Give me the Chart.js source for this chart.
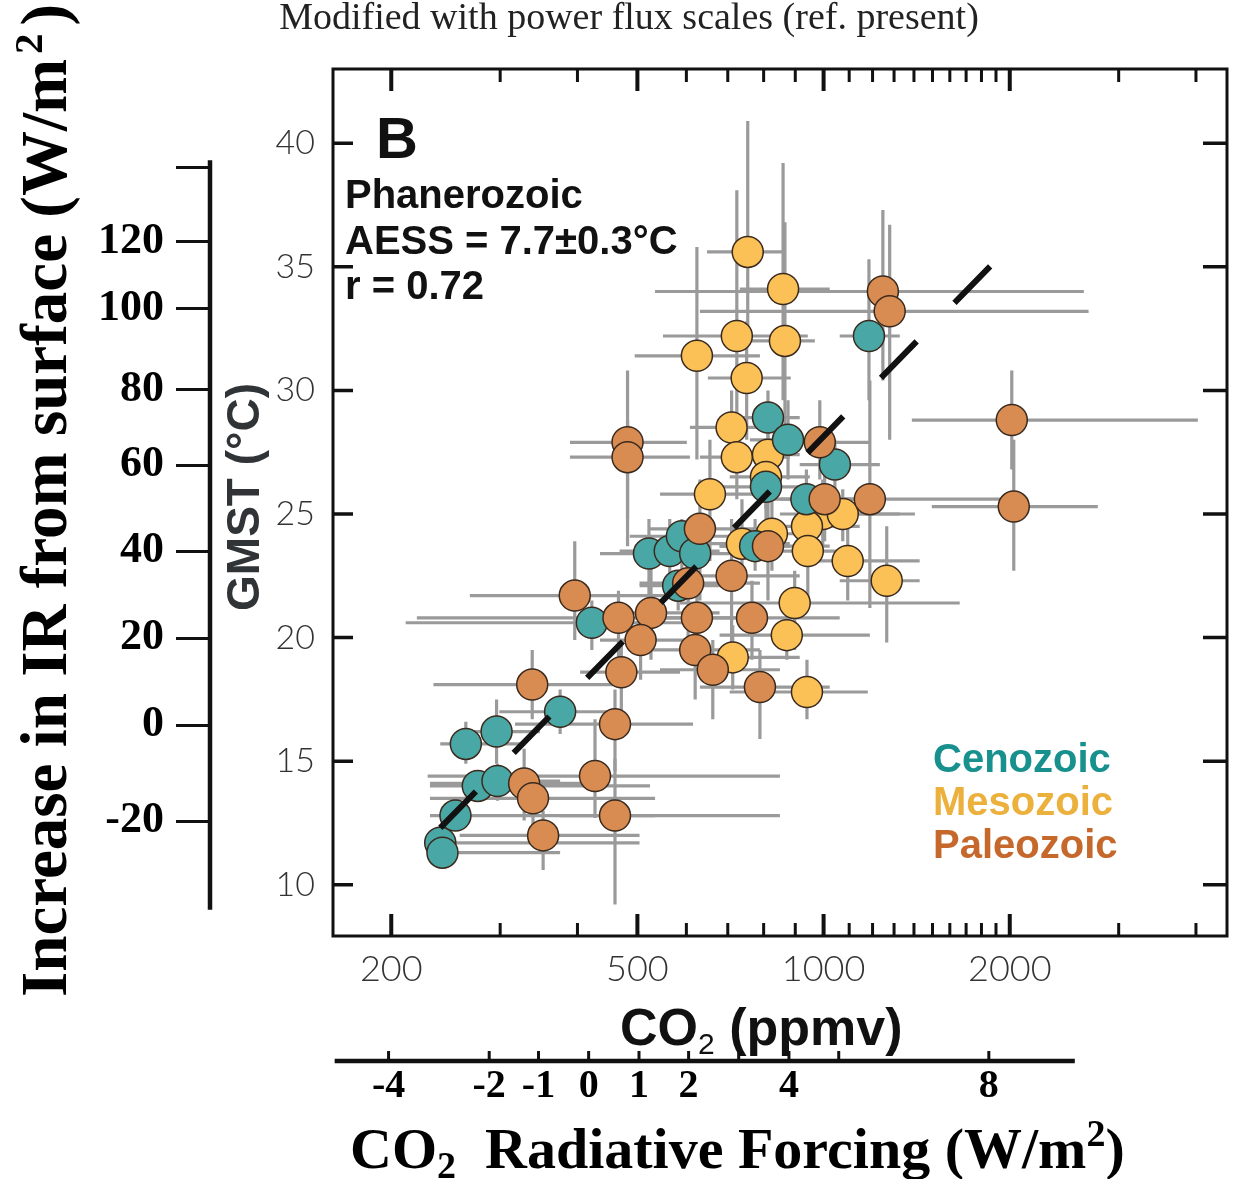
<!DOCTYPE html>
<html lang="en">
<head>
<meta charset="UTF-8">
<title>Phanerozoic GMST vs CO2</title>
<style>
  html, body { margin: 0; padding: 0; background: #fff; }
  canvas { display: block; }
</style>
</head>
<body>
<canvas id="co2Chart" width="1233" height="1179"></canvas>

<script src="https://cdn.jsdelivr.net/npm/chart.js@4"></script>
<script>
// ---- data ----
// Cenozoic
const cenoCo2    = [240, 242, 254, 276, 297, 264, 296, 375, 422, 522, 564, 590, 620, 582, 813, 876, 1043, 807, 775, 938, 1184];
const cenoGmst   = [11.7, 11.3, 12.8, 14.0, 14.2, 15.7, 16.2, 17.0, 20.6, 23.4, 23.5, 24.1, 23.4, 22.1, 28.9, 28.0, 27.0, 26.1, 23.7, 25.6, 32.2];
const cenoCo2Lo  = [226, 231, 231, 231, 268, 240, 268, 299, 211, 435, 468, 486, 544, 504, 679, 760, 915, 679, 679, 819, 1062];
const cenoCo2Hi  = [504, 375, 534, 524, 375, 323, 348, 468, 631, 631, 679, 732, 760, 679, 915, 1023, 1233, 915, 882, 1102, 1328];
const cenoGmstLo = [10.9, 10.8, 12.2, 13.4, 13.4, 14.9, 14.9, 16.1, 19.5, 21.5, 21.9, 22.7, 22.3, 21.1, 26.8, 26.4, 26.0, 24.4, 22.7, 24.4, 29.6];
const cenoGmstHi = [12.3, 12.0, 13.4, 14.6, 14.9, 16.6, 17.5, 17.9, 21.5, 24.8, 24.8, 24.8, 24.4, 22.7, 30.0, 29.6, 28.0, 27.6, 24.8, 26.8, 35.3];

// Mesozoic
const mesoCo2    = [754, 860, 724, 866, 624, 751, 710, 724, 813, 807, 655, 738, 825, 997, 1074, 940, 943, 1094, 1265, 898, 872, 713, 940];
const mesoGmst   = [35.6, 34.1, 32.2, 32.0, 31.4, 30.5, 28.5, 27.3, 27.4, 26.5, 25.8, 23.8, 24.2, 25.0, 25.0, 24.5, 23.5, 23.1, 22.3, 21.4, 20.1, 19.2, 17.8];
const mesoCo2Lo  = [648, 732, 550, 732, 495, 650, 608, 631, 705, 705, 544, 631, 732, 850, 915, 819, 850, 915, 1062, 586, 679, 631, 705];
const mesoCo2Hi  = [860, 1023, 943, 968, 789, 885, 882, 882, 915, 950, 789, 882, 986, 1328, 1405, 1144, 1102, 1430, 1430, 1660, 1188, 915, 1179];
const mesoGmstLo = [32.4, 29.6, 26.8, 28.4, 27.2, 28.0, 26.8, 25.6, 26.4, 25.2, 23.1, 22.3, 22.7, 23.7, 23.9, 23.1, 21.5, 21.5, 19.8, 19.5, 19.1, 17.9, 16.7];
const mesoGmstHi = [40.9, 39.2, 38.1, 36.8, 35.8, 32.8, 30.0, 28.8, 28.4, 27.6, 28.0, 25.6, 25.6, 26.4, 26.0, 25.6, 24.8, 24.8, 24.5, 22.7, 21.5, 20.5, 19.1];

// Paleozoic
const paleoCo2    = [396, 466, 526, 506, 471, 338, 460, 427, 328, 339, 352, 460, 482, 482, 631, 604, 710, 766, 624, 620, 662, 789, 813, 986, 1004, 1188, 1247, 1279, 2015, 2030];
const paleoGmst   = [21.7, 20.8, 21.0, 19.9, 18.6, 18.1, 16.5, 14.4, 14.1, 13.5, 12.0, 12.8, 27.9, 27.3, 24.4, 22.2, 22.5, 20.8, 20.8, 19.5, 18.7, 18.0, 23.7, 27.9, 25.6, 25.6, 34.0, 33.2, 28.8, 25.3];
const paleoCo2Lo  = [268, 220, 435, 435, 404, 234, 317, 229, 231, 231, 258, 375, 389, 389, 524, 504, 608, 631, 504, 504, 544, 631, 679, 850, 850, 915, 534, 631, 1389, 1496];
const paleoCo2Hi  = [631, 631, 679, 631, 586, 456, 615, 850, 435, 534, 504, 850, 601, 608, 789, 789, 915, 1062, 789, 789, 850, 1023, 1023, 1188, 1233, 1927, 2635, 2682, 4028, 2776];
const paleoGmstLo = [19.9, 19.1, 19.1, 18.3, 16.7, 16.7, 14.6, 12.7, 12.6, 12.2, 10.6, 9.2, 23.7, 24.8, 21.5, 19.9, 19.5, 19.1, 19.1, 17.5, 16.7, 15.9, 21.5, 26.4, 23.9, 21.2, 30.4, 28.0, 26.8, 22.7];
const paleoGmstHi = [23.9, 21.9, 23.1, 21.1, 19.9, 19.5, 17.9, 16.7, 15.5, 14.6, 13.0, 15.1, 30.8, 28.8, 26.4, 23.9, 24.8, 22.3, 22.3, 21.1, 19.9, 19.5, 25.6, 29.6, 27.2, 30.4, 37.3, 36.7, 30.8, 28.0];

// regression line (AESS = 7.7 C per doubling)
const fitCo2  = [240, 1890];
const fitGmst = [12.3, 35.2];

// axes
const co2Min = 161, co2Max = 4490;
const gmstMin = 7.93, gmstMax = 43.0;
const co2TickVals = [200, 300, 400, 500, 600, 700, 800, 900, 1000, 1100, 1200, 1300, 1400, 1500, 1600, 1700, 1800, 1900, 2000, 3000, 4000];
const co2MajorTicks = [200, 500, 1000, 2000];
const gmstTicks = [10, 15, 20, 25, 30, 35, 40];
// IR flux scale: GMST position of each tick and its label
const irTickGmst   = [39.03, 36.01, 33.32, 30.05, 26.98, 23.50, 19.98, 16.46, 12.58];
const irTickLabels = ['', '120', '100', '80', '60', '40', '20', '0', '-20'];
const irAxisGmst   = [39.31, 8.99];
// CO2 radiative forcing scale: CO2 position of each tick and its label
const forcingTickCo2    = [198, 288, 346, 417, 503, 605, 729, 879, 1058, 1850];
const forcingTickLabels = ['-4', '-2', '-1', '0', '1', '2', '', '4', '', '8'];
const forcingAxisCo2    = [162, 2548];

const eras = [
  { name: 'Paleozoic', co2: paleoCo2, gmst: paleoGmst, co2Lo: paleoCo2Lo, co2Hi: paleoCo2Hi, gLo: paleoGmstLo, gHi: paleoGmstHi, fill: '#d98c52' },
  { name: 'Cenozoic',  co2: cenoCo2,  gmst: cenoGmst,  co2Lo: cenoCo2Lo,  co2Hi: cenoCo2Hi,  gLo: cenoGmstLo,  gHi: cenoGmstHi,  fill: '#49a7a5' },
  { name: 'Mesozoic',  co2: mesoCo2,  gmst: mesoGmst,  co2Lo: mesoCo2Lo,  co2Hi: mesoCo2Hi,  gLo: mesoGmstLo,  gHi: mesoGmstHi,  fill: '#fbc157' }
];

const SANS = '"Liberation Sans", Arial, sans-serif';
const SERIF = '"Liberation Serif", "Times New Roman", serif';
const LIGHT = 'Lato, "Liberation Sans", sans-serif';

// draw a run of text pieces along one baseline (for sub/superscripts)
function drawParts(ctx, parts, x, y) {
  let cx = x;
  parts.forEach(p => {
    ctx.font = p.font;
    cx += p.dx || 0;
    ctx.fillText(p.text, cx, y + (p.dy || 0));
    cx += ctx.measureText(p.text).width;
  });
}

// horizontal scales: fixed height, no extra side padding
function fixBottom(h) {
  return s => { s.height = h; s.paddingLeft = 0; s.paddingRight = 0; };
}

// grey error crosses under the points
const errorBars = {
  id: 'errorBars',
  beforeDatasetsDraw(chart) {
    const { ctx, chartArea, scales: { x, y } } = chart;
    ctx.save();
    ctx.beginPath();
    ctx.rect(chartArea.left, chartArea.top, chartArea.width, chartArea.height);
    ctx.clip();
    ctx.strokeStyle = '#9a9a9a';
    ctx.lineWidth = 3.2;
    eras.forEach(e => {
      e.co2.forEach((c, i) => {
        const px = x.getPixelForValue(c);
        const py = y.getPixelForValue(e.gmst[i]);
        ctx.beginPath();
        ctx.moveTo(x.getPixelForValue(e.co2Lo[i]), py);
        ctx.lineTo(x.getPixelForValue(e.co2Hi[i]), py);
        ctx.moveTo(px, y.getPixelForValue(e.gLo[i]));
        ctx.lineTo(px, y.getPixelForValue(e.gHi[i]));
        ctx.stroke();
      });
    });
    ctx.restore();
  }
};

// frame, inward ticks, extra axis lines, titles and labels
const decor = {
  id: 'decor',
  afterDraw(chart) {
    const { ctx, chartArea: a, scales: { x, y, xF, yIR } } = chart;
    ctx.save();
    ctx.strokeStyle = '#111';
    ctx.fillStyle = '#111';

    // plot frame
    ctx.lineWidth = 3;
    ctx.strokeRect(a.left, a.top, a.right - a.left, a.bottom - a.top);

    // inward ticks on all four sides
    co2TickVals.forEach(v => {
      const px = x.getPixelForValue(v);
      const major = co2MajorTicks.includes(v);
      const len = major ? 22 : 13;
      ctx.lineWidth = major ? 4 : 3;
      ctx.beginPath();
      ctx.moveTo(px, a.bottom); ctx.lineTo(px, a.bottom - len);
      ctx.moveTo(px, a.top); ctx.lineTo(px, a.top + len);
      ctx.stroke();
    });
    ctx.lineWidth = 3.5;
    gmstTicks.forEach(v => {
      const py = y.getPixelForValue(v);
      ctx.beginPath();
      ctx.moveTo(a.left, py); ctx.lineTo(a.left + 20, py);
      ctx.moveTo(a.right, py); ctx.lineTo(a.right - 24, py);
      ctx.stroke();
    });

    // IR flux axis line
    ctx.lineWidth = 4.5;
    ctx.beginPath();
    ctx.moveTo(yIR.right - 1, y.getPixelForValue(irAxisGmst[0]));
    ctx.lineTo(yIR.right - 1, y.getPixelForValue(irAxisGmst[1]));
    ctx.stroke();

    // radiative forcing axis line with upward ticks
    const fy = xF.top + 1;
    ctx.lineWidth = 4.5;
    ctx.beginPath();
    ctx.moveTo(x.getPixelForValue(forcingAxisCo2[0]), fy);
    ctx.lineTo(x.getPixelForValue(forcingAxisCo2[1]), fy);
    ctx.stroke();
    ctx.lineWidth = 3;
    forcingTickCo2.forEach(v => {
      const px = x.getPixelForValue(v);
      ctx.beginPath();
      ctx.moveTo(px, fy); ctx.lineTo(px, fy - 10);
      ctx.stroke();
    });

    // top caption
    ctx.textBaseline = 'alphabetic';
    ctx.textAlign = 'center';
    ctx.fillStyle = '#222';
    ctx.font = '38px ' + SERIF;
    ctx.fillText('Modified with power flux scales (ref. present)', 629, 29);

    // IR axis title (rotated)
    ctx.fillStyle = '#000';
    ctx.textAlign = 'left';
    ctx.save();
    ctx.translate(66, 997);
    ctx.rotate(-Math.PI / 2);
    drawParts(ctx, [
      { text: 'Increase in IR from surface (W/m', font: 'bold 65px ' + SERIF },
      { text: '2', font: 'bold 41px ' + SERIF, dy: -24, dx: 5 },
      { text: ')', font: 'bold 65px ' + SERIF, dx: 8 }
    ], 0, 0);
    ctx.restore();

    // GMST title (rotated)
    ctx.save();
    ctx.translate(259, 497);
    ctx.rotate(-Math.PI / 2);
    ctx.textAlign = 'center';
    ctx.fillStyle = '#303437';
    ctx.font = 'bold 46px ' + SANS;
    ctx.fillText('GMST (\u00B0C)', 0, 0);
    ctx.restore();

    // CO2 axis title
    ctx.fillStyle = '#111';
    drawParts(ctx, [
      { text: 'CO', font: 'bold 52px ' + SANS },
      { text: '2', font: '30px ' + SANS, dy: 9 },
      { text: ' (ppmv)', font: 'bold 52px ' + SANS }
    ], 620, 1045);

    // forcing axis title
    ctx.fillStyle = '#000';
    drawParts(ctx, [
      { text: 'CO', font: 'bold 58px ' + SERIF },
      { text: '2', font: 'bold 38px ' + SERIF, dy: 10 },
      { text: '  Radiative Forcing (W/m', font: 'bold 58px ' + SERIF },
      { text: '2', font: 'bold 38px ' + SERIF, dy: -22 },
      { text: ')', font: 'bold 58px ' + SERIF }
    ], 350, 1168);

    // panel annotations
    ctx.fillStyle = '#111';
    ctx.font = 'bold 58px ' + SANS;
    ctx.fillText('B', 376, 158);
    ctx.font = 'bold 40px ' + SANS;
    ctx.fillText('Phanerozoic', 345, 208);
    ctx.fillText('AESS = 7.7\u00B10.3\u00B0C', 345, 254);
    ctx.fillText('r = 0.72', 345, 299);

    // legend as coloured words
    ctx.font = 'bold 40px ' + SANS;
    ctx.fillStyle = '#18918e'; ctx.fillText('Cenozoic', 933, 772);
    ctx.fillStyle = '#ecb03c'; ctx.fillText('Mesozoic', 933, 815);
    ctx.fillStyle = '#c6672b'; ctx.fillText('Paleozoic', 933, 858);
    ctx.restore();
  }
};

const datasets = [{
  type: 'line',
  label: 'fit',
  data: fitCo2.map((c, i) => ({ x: c, y: fitGmst[i] })),
  borderColor: '#111',
  borderWidth: 6,
  borderDash: [51, 54],
  borderCapStyle: 'butt',
  pointRadius: 0,
  fill: false
}];
eras.forEach(e => {
  datasets.push({
    label: e.name,
    data: e.co2.map((c, i) => ({ x: c, y: e.gmst[i] })),
    backgroundColor: e.fill,
    borderColor: '#3a2a1e',
    borderWidth: 1.5,
    pointRadius: 15.5,
    pointHoverRadius: 15.5
  });
});

new Chart(document.getElementById('co2Chart'), {
  type: 'scatter',
  data: { datasets },
  options: {
    responsive: false,
    animation: false,
    layout: { autoPadding: false, padding: { top: 69, right: 6, bottom: 0, left: 0 } },
    plugins: {
      legend: { display: false },
      tooltip: { enabled: false },
      title: { display: false }
    },
    scales: {
      x: {
        type: 'logarithmic',
        position: 'bottom',
        min: co2Min, max: co2Max,
        afterBuildTicks: s => { s.ticks = co2TickVals.map(v => ({ value: v })); },
        afterFit: fixBottom(124),
        grid: { display: false, drawTicks: false },
        border: { display: false },
        ticks: {
          autoSkip: false, maxRotation: 0, minRotation: 0, padding: 12,
          color: '#333', font: { family: LIGHT, size: 36, weight: 300 },
          callback: v => co2MajorTicks.includes(v) ? String(v) : ''
        }
      },
      xF: {
        type: 'logarithmic',
        position: 'bottom',
        weight: 1,
        min: co2Min, max: co2Max,
        afterBuildTicks: s => { s.ticks = forcingTickCo2.map(v => ({ value: v })); },
        afterFit: fixBottom(119),
        grid: { display: false, drawTicks: false },
        border: { display: false },
        ticks: {
          autoSkip: false, maxRotation: 0, minRotation: 0, padding: 3,
          color: '#000', font: { family: SERIF, size: 40, weight: 'bold' },
          callback: (v, i) => forcingTickLabels[i]
        }
      },
      y: {
        type: 'linear',
        position: 'left',
        min: gmstMin, max: gmstMax,
        afterBuildTicks: s => { s.ticks = gmstTicks.map(v => ({ value: v })); },
        afterFit: s => { s.width = 122; },
        grid: { display: false, drawTicks: false },
        border: { display: false },
        ticks: {
          autoSkip: false, padding: 18,
          color: '#333', font: { family: LIGHT, size: 34, weight: 300 }
        }
      },
      yIR: {
        type: 'linear',
        position: 'left',
        weight: 1,
        min: gmstMin, max: gmstMax,
        afterBuildTicks: s => { s.ticks = irTickGmst.map(v => ({ value: v })); },
        afterFit: s => { s.width = 211; },
        grid: { display: true, drawOnChartArea: false, drawTicks: true, tickLength: 35, color: '#111', lineWidth: 3 },
        border: { display: false },
        ticks: {
          autoSkip: false, padding: 12,
          color: '#000', font: { family: SERIF, size: 44, weight: 'bold' },
          callback: (v, i) => irTickLabels[i]
        }
      }
    }
  },
  plugins: [errorBars, decor]
});
</script>
</body>
</html>
